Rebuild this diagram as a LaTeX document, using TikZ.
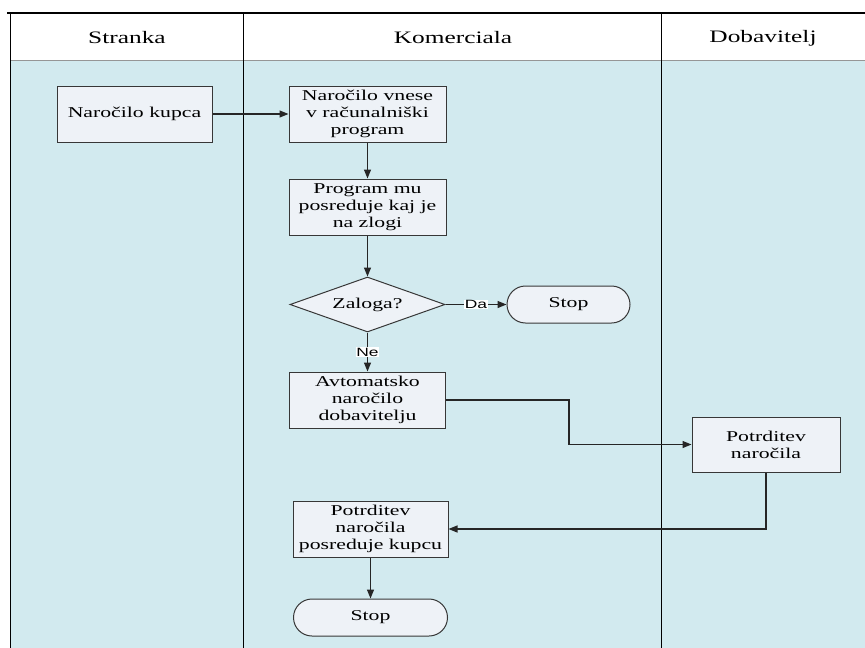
\documentclass[tikz,border=0pt]{standalone}
\usepackage{fontspec}
\setmainfont[FakeStretch=1.45]{Liberation Serif}
\newfontfamily\lblfont[FakeStretch=1.45]{Liberation Sans}
\usetikzlibrary{shapes.geometric,arrows.meta}
\definecolor{lanebg}{RGB}{210,234,239}
\definecolor{boxbg}{RGB}{238,242,247}
\definecolor{boxline}{RGB}{55,55,55}
\definecolor{rulegray}{RGB}{150,150,150}
\tikzset{
  proc/.style={draw=boxline, fill=boxbg, line width=1pt, align=center,
    inner sep=0pt, font=\fontsize{15}{17}\selectfont},
  decision/.style={diamond, draw=boxline, fill=boxbg, line width=1pt,
    inner sep=0pt, shape aspect=2.8, minimum width=155pt, minimum height=55pt,
    font=\fontsize{15}{17}\selectfont},
  terminal/.style={draw=boxline, fill=boxbg, line width=1pt, rounded corners=18.5pt,
    inner sep=0pt, minimum height=37pt, font=\fontsize{15}{17}\selectfont},
  flow/.style={draw=black!85, line width=1.2pt,
    -{Triangle[length=9pt,width=7pt]}},
  answer/.style={fill=white, inner sep=0.6pt, font=\lblfont\fontsize{12}{12}\selectfont},
  lanehead/.style={font=\fontsize{17.5}{20}\selectfont},
  laneline/.style={draw=black, line width=1.3pt}
}
\begin{document}
\begin{tikzpicture}[x=1pt,y=-1pt]
\useasboundingbox (0,0) rectangle (865,648);
% lane background and header
\fill[white] (0,0) rectangle (865,648);
\fill[lanebg] (10.5,60.5) rectangle (865,648);
\draw[rulegray, line width=1pt] (10.5,60.5) -- (865,60.5);
\draw[laneline] (10.5,13) -- (10.5,648);
\draw[laneline] (243.5,13) -- (243.5,648);
\draw[laneline] (661.5,13) -- (661.5,648);
\draw[black, line width=2.2pt] (7,13) -- (865,13);
\node[lanehead] (hStranka) at (127,38) {Stranka};
\node[lanehead] (hKomerciala) at (453,38) {Komerciala};
\node[lanehead] (hDobavitelj) at (763,38) {Dobavitelj};

% process steps
\node[proc, minimum width=155pt, minimum height=56pt] (kupca) at (134.5,114) {Naročilo kupca};
\node[proc, minimum width=157pt, minimum height=56pt] (vnese) at (367.5,114) {Naročilo vnese\\v računalniški\\program};
\node[proc, minimum width=157pt, minimum height=56pt] (prog) at (367.5,207) {Program mu\\posreduje kaj je\\na zlogi};
\node[decision] (zal) at (367.5,304.5) {Zaloga?};
\node[terminal, minimum width=123pt] (stopA) at (568.5,304.5) {Stop};
\node[proc, minimum width=156pt, minimum height=56pt] (avto) at (367.5,400) {Avtomatsko\\naročilo\\dobavitelju};
\node[proc, minimum width=148pt, minimum height=55pt] (potr) at (766,444.5) {Potrditev\\naročila};
\node[proc, minimum width=155pt, minimum height=56pt] (posr) at (370.5,529) {Potrditev\\naročila\\posreduje kupcu};
\node[terminal, minimum width=154pt] (stopB) at (370.5,617.5) {Stop};

% connectors
\draw[flow] (kupca) -- (vnese);
\draw[flow] (vnese) -- (prog);
\draw[flow] (prog) -- (zal);
\draw[flow] (zal) -- node[answer] {Da} (stopA);
\draw[flow] (zal) -- node[answer] {Ne} (avto);
\draw[flow] (avto.east) -- ++(123,0) |- (potr.west);
\draw[flow] (potr.south) |- (posr.east);
\draw[flow] (posr) -- (stopB);
\end{tikzpicture}
\end{document}
